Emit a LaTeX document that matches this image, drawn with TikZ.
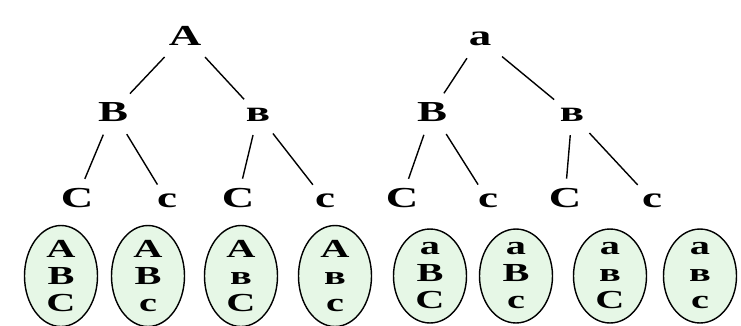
\documentclass[tikz,border=0pt]{standalone}
\usepackage{fontspec}
\setmainfont{Liberation Serif}
\newfontfamily\wideserif[FakeStretch=1.55]{Liberation Serif}
\tikzset{
  lt/.style={font=\wideserif\fontsize{29}{30}\bfseries\selectfont, inner sep=6pt, anchor=base},
  cell/.style={ellipse, draw, line width=1.4pt, fill=cellgreen, minimum width=73pt,
    minimum height=92pt, inner sep=0pt, align=center,
    font=\wideserif\fontsize{26}{27}\bfseries\selectfont},
  link/.style={line width=1.4pt, shorten <=8pt, shorten >=3pt}
}
\definecolor{cellgreen}{RGB}{230,247,230}
\usetikzlibrary{shapes.geometric}
\begin{document}
\begin{tikzpicture}[x=1pt, y=-1pt]
\useasboundingbox (0,0) rectangle (741,325);

% left tree
\node[lt] (lA) at (185,45) {A};
\node[lt] (lB) at (113,121) {B};
\node[lt] (lb) at (258,121) {в};
\node[lt] (lC1) at (77,207) {C};
\node[lt] (lc1) at (167,207) {c};
\node[lt] (lC2) at (238,207) {C};
\node[lt] (lc2) at (325,207) {c};
\draw[link] (lA) -- (lB);
\draw[link] (lA) -- (lb);
\draw[link] (lB) -- (lC1);
\draw[link] (lB) -- (lc1);
\draw[link] (lb) -- (lC2);
\draw[link] (lb) -- (lc2);

% right tree
\node[lt] (ra) at (480,45) {a};
\node[lt] (rB) at (432,121) {B};
\node[lt] (rb) at (572,121) {в};
\node[lt] (rC1) at (402,207) {C};
\node[lt] (rc1) at (488,207) {c};
\node[lt] (rC2) at (565,207) {C};
\node[lt] (rc2) at (652,207) {c};
\draw[link] (ra) -- (rB);
\draw[link] (ra) -- (rb);
\draw[link] (rB) -- (rC1);
\draw[link] (rB) -- (rc1);
\draw[link] (rb) -- (rC2);
\draw[link] (rb) -- (rc2);

% gametes
\node[cell] (g1) at (61,276) {A\\B\\C};
\node[cell] (g2) at (148,276) {A\\B\\c};
\node[cell] (g3) at (241,276) {A\\в\\C};
\node[cell] (g4) at (335,276) {A\\в\\c};
\node[cell] (g5) at (430,276) {a\\B\\C};
\node[cell] (g6) at (516,276) {a\\B\\c};
\node[cell] (g7) at (610,276) {a\\в\\C};
\node[cell] (g8) at (700,276) {a\\в\\c};
\end{tikzpicture}
\end{document}
